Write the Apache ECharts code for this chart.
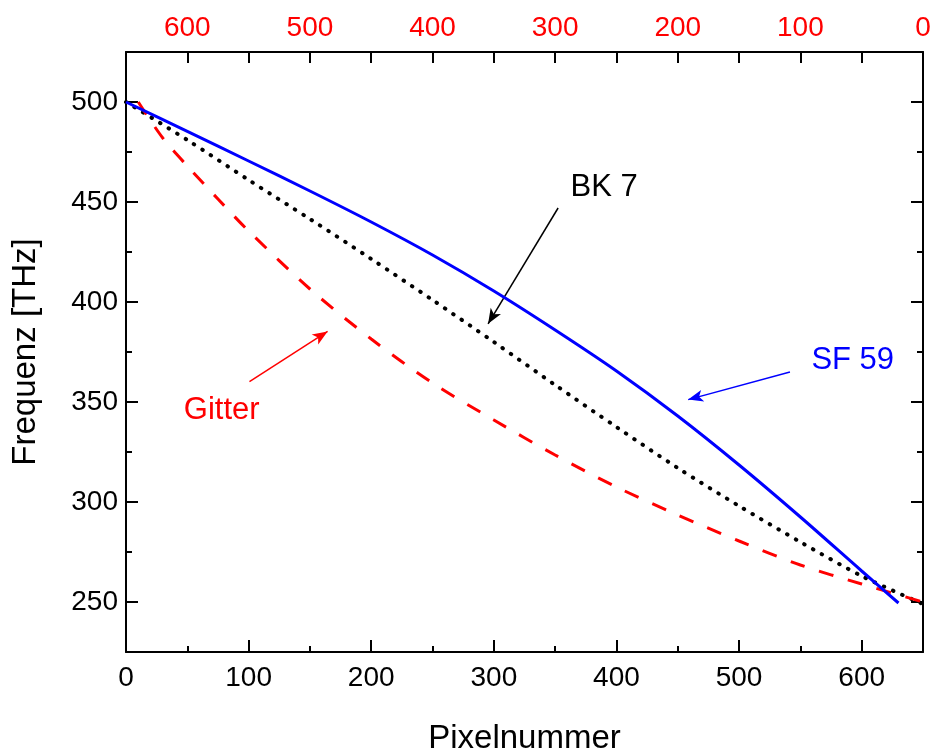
<!DOCTYPE html>
<html><head><meta charset="utf-8">
<script src="https://cdn.jsdelivr.net/npm/echarts@6/dist/echarts.min.js"></script>
<style>html,body{margin:0;padding:0;background:#fff}#c{width:931px;height:751px}</style>
</head><body><div id="c"></div>
<script>
// --- data ---
const sf59 = [[0,500],[50,485.3],[100,470.5],[150,455.5],[200,440],[250,423.5],[300,405.5],[350,386],[400,365.5],[450,343],[500,318.5],[550,292.5],[600,265.5],[630,249.5]];
const bk7 = [[0,500],[50,481],[100,461],[150,441.5],[200,421.5],[250,401],[300,380],[350,358.5],[400,337.5],[450,317],[500,298],[550,280],[600,263],[650,249]];
const gitter = [[10,500],[30,482],[50,468],[75,451.5],[100,435.5],[150,406.5],[200,381.5],[250,359.5],[300,341],[350,323.5],[400,307.5],[450,293.5],[500,280.5],[550,268.5],[600,259],[650,250]];
const xMajor = [0,100,200,300,400,500,600];
const xMinor = [50,150,250,350,450,550];
const topTicks = [50,100,150,200,250,300,350,400,450,500,550,600];
const topLabels = [0,100,200,300,400,500,600];
const yMajor = [250,300,350,400,450,500];
const yMinor = [275,325,375,425,475];
// annotations: [text, textPos, arrowStart, arrowEnd, color]
const notes = [
  ['BK 7', [390,457.4], [352.4,447], [295.3,389.1], '#000000'],
  ['SF 59', [592.7,370.8], [541.5,365], [458.5,351.2], '#0000ff'],
  ['Gitter', [78.1,346], [100.7,360.2], [164.4,385.3], '#ff0000']
];

const FONT = '"Liberation Sans", Arial, sans-serif';
const chart = echarts.init(document.getElementById('c'));
const axLine = {show:true, lineStyle:{color:'#000', width:2}};
function xAx(pos, opts){ return Object.assign({type:'value', position:pos, min:0, max:650, gridIndex:0,
  axisLine:axLine, splitLine:{show:false}}, opts); }
function yAx(pos, opts){ return Object.assign({type:'value', position:pos, min:225, max:525, gridIndex:0,
  axisLine:axLine, splitLine:{show:false}}, opts); }

const noteSeries = notes.map(n => ({
  type:'line', xAxisIndex:0, yAxisIndex:0, data:[], silent:true,
  markLine:{silent:true, symbol:['none','arrow'], symbolSize:[9,15], animation:false,
    lineStyle:{color:n[4], width:1.5, type:'solid'}, label:{show:false},
    data:[[{coord:n[2]},{coord:n[3]}]]},
  markPoint:{silent:true, symbol:'circle', symbolSize:0, animation:false,
    label:{show:true, position:'inside', formatter:n[0], color:n[4], fontSize:31, fontFamily:FONT},
    data:[{coord:n[1]}]}
}));

chart.setOption({
  animation:false,
  grid:{left:126, right:8, top:52, bottom:99, containLabel:false, outerBoundsMode:'none'},
  xAxis:[
    xAx('bottom', {interval:100, name:'Pixelnummer', nameLocation:'middle', nameGap:70,
      nameTextStyle:{fontSize:33, fontFamily:FONT, color:'#000'},
      axisTick:{show:true, inside:true, length:12, customValues:xMajor, lineStyle:{color:'#000', width:2}},
      axisLabel:{show:true, customValues:xMajor, margin:12, fontSize:28, fontFamily:FONT, color:'#000'}}),
    xAx('bottom', {interval:100, axisLine:{show:false},
      axisTick:{show:true, inside:true, length:6, customValues:xMinor, lineStyle:{color:'#000', width:2}},
      axisLabel:{show:false}}),
    xAx('top', {interval:100, inverse:true,
      axisTick:{show:true, inside:true, length:11, customValues:topTicks, lineStyle:{color:'#000', width:2}},
      axisLabel:{show:true, customValues:topLabels, margin:10, fontSize:28, fontFamily:FONT, color:'#ff0000'}})
  ],
  yAxis:[
    yAx('left', {interval:25, name:'Frequenz [THz]', nameLocation:'middle', nameGap:84,
      nameTextStyle:{fontSize:33, fontFamily:FONT, color:'#000'},
      axisTick:{show:true, inside:true, length:12, customValues:yMajor, lineStyle:{color:'#000', width:2}},
      axisLabel:{show:true, customValues:yMajor, margin:8, fontSize:28, fontFamily:FONT, color:'#000'}}),
    yAx('left', {interval:25, axisLine:{show:false},
      axisTick:{show:true, inside:true, length:6, customValues:yMinor, lineStyle:{color:'#000', width:2}},
      axisLabel:{show:false}}),
    yAx('right', {interval:25,
      axisTick:{show:true, inside:true, length:12, customValues:yMajor, lineStyle:{color:'#000', width:2}},
      axisLabel:{show:false}}),
    yAx('right', {interval:25, axisLine:{show:false},
      axisTick:{show:true, inside:true, length:6, customValues:yMinor, lineStyle:{color:'#000', width:2}},
      axisLabel:{show:false}})
  ],
  series:[
    {name:'BK 7', type:'line', data:bk7, xAxisIndex:0, yAxisIndex:0, symbol:'none', smooth:0.3, z:3,
      lineStyle:{color:'#000', width:4, type:[0.5,9.5], cap:'round'}},
    {name:'Gitter', type:'line', data:gitter, xAxisIndex:0, yAxisIndex:0, symbol:'none', smooth:0.3, z:4,
      lineStyle:{color:'#ff0000', width:3, type:[15,15]}},
    {name:'SF 59', type:'line', data:sf59, xAxisIndex:0, yAxisIndex:0, symbol:'none', smooth:0.3, z:5,
      lineStyle:{color:'#0000ff', width:3, type:'solid'}}
  ].concat(noteSeries)
});
</script></body></html>
